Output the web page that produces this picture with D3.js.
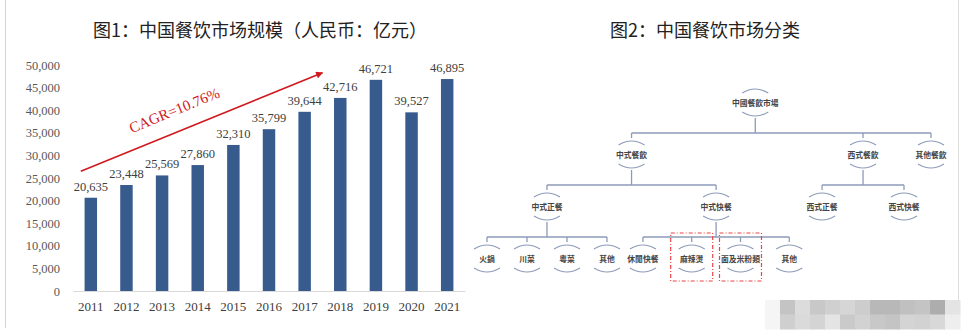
<!DOCTYPE html>
<html><head><meta charset="utf-8">
<script src="https://cdn.jsdelivr.net/npm/d3@7/dist/d3.min.js"></script>
<style>
html,body{margin:0;padding:0;background:#fff;}
svg{display:block;}
</style></head>
<body>
<svg id="c" width="961" height="332"></svg>
<script>
// ---------- data ----------
const years = ["2011","2012","2013","2014","2015","2016","2017","2018","2019","2020","2021"];
const marketSize = [20635,23448,25569,27860,32310,35799,39644,42716,46721,39527,46895];
const yTicks = [0,5000,10000,15000,20000,25000,30000,35000,40000,45000,50000];
const title1 = "图1：中国餐饮市场规模（人民币：亿元）";
const title2 = "图2：中国餐饮市场分类";
const cagrLabel = "CAGR=10.76%";

const treeNames   = ["中國餐飲市場","中式餐飲","西式餐飲","其他餐飲","中式正餐","中式快餐","西式正餐","西式快餐","火鍋","川菜","粵菜","其他","休閒快餐","麻辣燙","面及米粉類","其他 "];
const treeParents = ["","中國餐飲市場","中國餐飲市場","中國餐飲市場","中式餐飲","中式餐飲","西式餐飲","西式餐飲","中式正餐","中式正餐","中式正餐","中式正餐","中式快餐","中式快餐","中式快餐","中式快餐"];
const highlighted = ["麻辣燙","面及米粉類"];

const mosaicRow1 = [245,196,220,200,208,214,205,184,184,192,196,173,228];
const mosaicRow2 = [245,207,218,212,228,202,210,200,196,212,210,216,238];

// ---------- setup ----------
const svg = d3.select("#c");
const serif = "'Liberation Serif','Times New Roman',serif";
const cjk = "'Noto Sans CJK SC','Noto Sans CJK TC',sans-serif";

// page borders
svg.append("line").attr("x1",5.5).attr("x2",5.5).attr("y1",0).attr("y2",328).attr("stroke","#d4d4d4");
svg.append("line").attr("x1",958.5).attr("x2",958.5).attr("y1",0).attr("y2",300).attr("stroke","#dcdcdc");

// ---------- chart 1 ----------
const x = d3.scaleBand().domain(years).range([73,465]).paddingInner(0.65).paddingOuter(0.325);
const y = d3.scaleLinear().domain([0,50000]).range([291,65]);
const xc = d => x(d) + x.bandwidth()/2;

svg.append("text").attr("x",260).attr("y",37).attr("text-anchor","middle")
  .attr("font-family",cjk).attr("font-size",18).attr("fill","#222").text(title1);

const yAxis = svg.append("g").attr("transform","translate(73,0)")
  .call(d3.axisLeft(y).tickValues(yTicks).tickFormat(d3.format(",")).tickSize(0).tickPadding(13));
yAxis.select(".domain").remove();
yAxis.selectAll("text").attr("font-family",serif).attr("font-size",12.5).attr("fill","#595959");

const xAxis = svg.append("g").attr("transform","translate(0,291)")
  .call(d3.axisBottom(x).tickSize(0).tickPadding(11));
xAxis.select(".domain").attr("stroke","#d9d9d9");
xAxis.selectAll("text").attr("font-family",serif).attr("font-size",13).attr("fill","#404040");

svg.append("g").selectAll("rect").data(years).join("rect")
  .attr("x",d=>x(d)).attr("width",x.bandwidth())
  .attr("y",(d,i)=>y(marketSize[i])).attr("height",(d,i)=>y(0)-y(marketSize[i]))
  .attr("fill","#375b8d");

svg.append("g").selectAll("text").data(years).join("text")
  .attr("x",d=>xc(d)).attr("y",(d,i)=>y(marketSize[i])-7)
  .attr("text-anchor","middle").attr("font-family",serif).attr("font-size",12.5).attr("fill","#404040")
  .text((d,i)=>d3.format(",")(marketSize[i]));

// CAGR arrow
const red = "#d0191e";
svg.append("defs").append("marker").attr("id","ah").attr("viewBox","0 0 10 10")
  .attr("refX",9).attr("refY",5).attr("markerWidth",9).attr("markerHeight",7)
  .attr("markerUnits","userSpaceOnUse").attr("orient","auto")
  .append("path").attr("d","M0,0 L10,5 L0,10 z").attr("fill",red);
const ax1 = xc("2011")-10, ay1 = y(26500);
const ax2 = xc("2017")+x.step()/2, ay2 = y(48300);
svg.append("line").attr("x1",ax1).attr("y1",ay1).attr("x2",ax2).attr("y2",ay2)
  .attr("stroke",red).attr("stroke-width",1.6).attr("marker-end","url(#ah)");
const ang = Math.atan2(ay2-ay1, ax2-ax1)*180/Math.PI;
const tmx = ax1 + (ax2-ax1)*0.42, tmy = ay1 + (ay2-ay1)*0.42;
svg.append("text").attr("transform",`translate(${tmx},${tmy}) rotate(${ang}) translate(0,-16)`)
  .attr("text-anchor","middle").attr("font-family",serif).attr("font-size",15).attr("fill",red)
  .text(cagrLabel);

// ---------- chart 2 (tree) ----------
svg.append("text").attr("x",705).attr("y",37).attr("text-anchor","middle")
  .attr("font-family",cjk).attr("font-size",18).attr("fill","#222").text(title2);

const table = treeNames.map((n,i)=>({name:n, parent:treeParents[i]}));
const root = d3.stratify().id(d=>d.name).parentId(d=>d.parent||null)(table);
const sep = (a,b) => {
  if (a.parent === b.parent) {
    if (a.depth === 3) return a.parent.id === "中式快餐" ? 1.22 : 1;
    if (a.depth === 2) return 2.05;
    return 1.7;
  }
  return a.depth === 3 ? 0.9 : 2.65;
};
d3.tree().nodeSize([1,1]).separation(sep)(root);
const nodes = root.descendants();
const xr = d3.extent(nodes.filter(n=>n.depth>0), n=>n.x);
const tx = d3.scaleLinear().domain(xr).range([487,931]);
const ty = d3.scaleLinear().domain([0,3]).range([103,259]);
nodes.forEach(n=>{ n.px = tx(n.x); n.py = ty(n.depth); });
// root sits between its first two branches
root.px = (root.children[0].px + root.children[1].px)/2 + 8;

const lineCol = "#8d9bb9";
const g2 = svg.append("g");
const arcHalf = 13, arcOff = 14, sag = 4;
nodes.forEach(n=>{
  g2.append("path").attr("d",`M${n.px-arcHalf},${n.py-arcOff+sag} Q${n.px},${n.py-arcOff-sag} ${n.px+arcHalf},${n.py-arcOff+sag}`)
    .attr("fill","none").attr("stroke",lineCol).attr("stroke-width",1.1);
  g2.append("path").attr("d",`M${n.px-arcHalf},${n.py+arcOff-sag-1} Q${n.px},${n.py+arcOff+sag-1} ${n.px+arcHalf},${n.py+arcOff-sag-1}`)
    .attr("fill","none").attr("stroke",lineCol).attr("stroke-width",1.1);
  g2.append("text").attr("x",n.px).attr("y",n.py+3).attr("text-anchor","middle")
    .attr("font-family","'Noto Sans CJK TC','Noto Sans CJK SC',sans-serif").attr("font-weight","bold")
    .attr("font-size",7.8).attr("fill","#444").text(n.id.trim());
  if (n.children) {
    const barY = n.py + 30;
    const cx = n.children.map(c=>c.px);
    g2.append("line").attr("x1",n.px).attr("x2",n.px).attr("y1",n.py+arcOff+1).attr("y2",barY)
      .attr("stroke",lineCol).attr("stroke-width",1.3);
    g2.append("line").attr("x1",d3.min(cx)).attr("x2",d3.max(cx)).attr("y1",barY).attr("y2",barY)
      .attr("stroke",lineCol).attr("stroke-width",1.3);
    n.children.forEach(c=>{
      g2.append("line").attr("x1",c.px).attr("x2",c.px).attr("y1",barY).attr("y2",c.py-arcOff-3)
        .attr("stroke",lineCol).attr("stroke-width",1.3);
    });
  }
});
nodes.filter(n=>highlighted.includes(n.id)).forEach(n=>{
  g2.append("rect").attr("x",n.px-21).attr("y",n.py-26).attr("width",42).attr("height",48)
    .attr("fill","none").attr("stroke","#ee4444").attr("stroke-width",1.2)
    .attr("stroke-dasharray","4,2,1,2");
});

// ---------- mosaic watermark ----------
const mx = d3.scaleBand().domain(d3.range(mosaicRow1.length)).range([765,960]);
const my = d3.scaleBand().domain([0,1]).range([300,329]);
[mosaicRow1,mosaicRow2].forEach((row,r)=>{
  svg.append("g").selectAll("rect").data(row).join("rect")
    .attr("x",(d,i)=>mx(i)).attr("y",my(r)).attr("width",mx.bandwidth()+0.5).attr("height",my.bandwidth()+0.5)
    .attr("fill",d=>d3.rgb(d,d,d));
});
</script>
</body></html>
